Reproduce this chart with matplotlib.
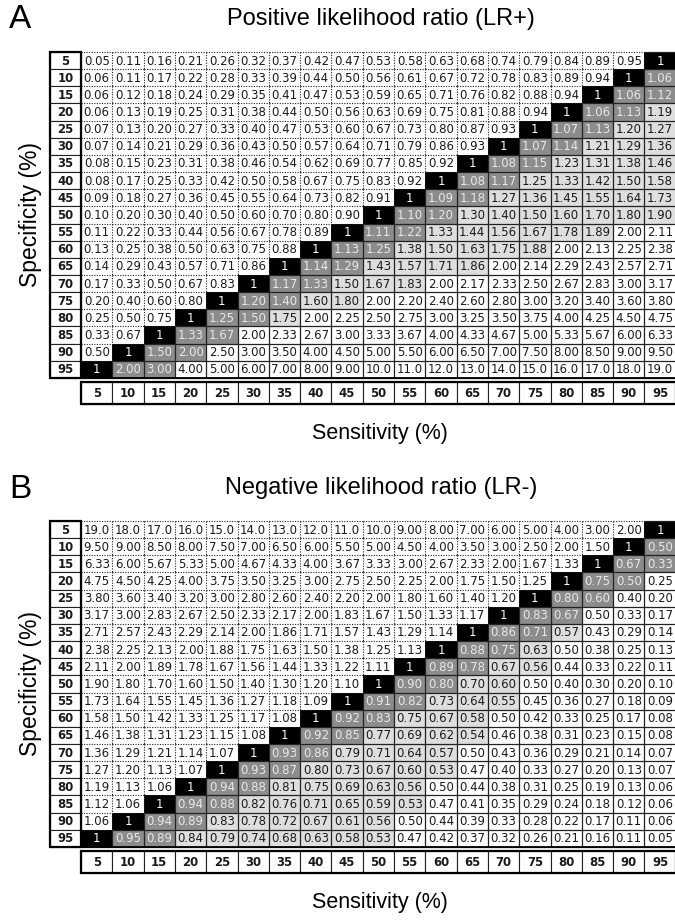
import matplotlib
matplotlib.use("Agg")
import matplotlib.pyplot as plt
from matplotlib import font_manager
from matplotlib.patches import Rectangle
from matplotlib.collections import LineCollection

# ---------------- data ----------------
specificity = [5, 10, 15, 20, 25, 30, 35, 40, 45, 50, 55, 60, 65, 70, 75, 80, 85, 90, 95]
sensitivity = [5, 10, 15, 20, 25, 30, 35, 40, 45, 50, 55, 60, 65, 70, 75, 80, 85, 90, 95]

lr_pos = [
    [0.05, 0.11, 0.16, 0.21, 0.26, 0.32, 0.37, 0.42, 0.47, 0.53, 0.58, 0.63, 0.68, 0.74, 0.79, 0.84, 0.89, 0.95, 1],
    [0.06, 0.11, 0.17, 0.22, 0.28, 0.33, 0.39, 0.44, 0.50, 0.56, 0.61, 0.67, 0.72, 0.78, 0.83, 0.89, 0.94, 1, 1.06],
    [0.06, 0.12, 0.18, 0.24, 0.29, 0.35, 0.41, 0.47, 0.53, 0.59, 0.65, 0.71, 0.76, 0.82, 0.88, 0.94, 1, 1.06, 1.12],
    [0.06, 0.13, 0.19, 0.25, 0.31, 0.38, 0.44, 0.50, 0.56, 0.63, 0.69, 0.75, 0.81, 0.88, 0.94, 1, 1.06, 1.13, 1.19],
    [0.07, 0.13, 0.20, 0.27, 0.33, 0.40, 0.47, 0.53, 0.60, 0.67, 0.73, 0.80, 0.87, 0.93, 1, 1.07, 1.13, 1.20, 1.27],
    [0.07, 0.14, 0.21, 0.29, 0.36, 0.43, 0.50, 0.57, 0.64, 0.71, 0.79, 0.86, 0.93, 1, 1.07, 1.14, 1.21, 1.29, 1.36],
    [0.08, 0.15, 0.23, 0.31, 0.38, 0.46, 0.54, 0.62, 0.69, 0.77, 0.85, 0.92, 1, 1.08, 1.15, 1.23, 1.31, 1.38, 1.46],
    [0.08, 0.17, 0.25, 0.33, 0.42, 0.50, 0.58, 0.67, 0.75, 0.83, 0.92, 1, 1.08, 1.17, 1.25, 1.33, 1.42, 1.50, 1.58],
    [0.09, 0.18, 0.27, 0.36, 0.45, 0.55, 0.64, 0.73, 0.82, 0.91, 1, 1.09, 1.18, 1.27, 1.36, 1.45, 1.55, 1.64, 1.73],
    [0.10, 0.20, 0.30, 0.40, 0.50, 0.60, 0.70, 0.80, 0.90, 1, 1.10, 1.20, 1.30, 1.40, 1.50, 1.60, 1.70, 1.80, 1.90],
    [0.11, 0.22, 0.33, 0.44, 0.56, 0.67, 0.78, 0.89, 1, 1.11, 1.22, 1.33, 1.44, 1.56, 1.67, 1.78, 1.89, 2.00, 2.11],
    [0.13, 0.25, 0.38, 0.50, 0.63, 0.75, 0.88, 1, 1.13, 1.25, 1.38, 1.50, 1.63, 1.75, 1.88, 2.00, 2.13, 2.25, 2.38],
    [0.14, 0.29, 0.43, 0.57, 0.71, 0.86, 1, 1.14, 1.29, 1.43, 1.57, 1.71, 1.86, 2.00, 2.14, 2.29, 2.43, 2.57, 2.71],
    [0.17, 0.33, 0.50, 0.67, 0.83, 1, 1.17, 1.33, 1.50, 1.67, 1.83, 2.00, 2.17, 2.33, 2.50, 2.67, 2.83, 3.00, 3.17],
    [0.20, 0.40, 0.60, 0.80, 1, 1.20, 1.40, 1.60, 1.80, 2.00, 2.20, 2.40, 2.60, 2.80, 3.00, 3.20, 3.40, 3.60, 3.80],
    [0.25, 0.50, 0.75, 1, 1.25, 1.50, 1.75, 2.00, 2.25, 2.50, 2.75, 3.00, 3.25, 3.50, 3.75, 4.00, 4.25, 4.50, 4.75],
    [0.33, 0.67, 1, 1.33, 1.67, 2.00, 2.33, 2.67, 3.00, 3.33, 3.67, 4.00, 4.33, 4.67, 5.00, 5.33, 5.67, 6.00, 6.33],
    [0.50, 1, 1.50, 2.00, 2.50, 3.00, 3.50, 4.00, 4.50, 5.00, 5.50, 6.00, 6.50, 7.00, 7.50, 8.00, 8.50, 9.00, 9.50],
    [1, 2.00, 3.00, 4.00, 5.00, 6.00, 7.00, 8.00, 9.00, 10.0, 11.0, 12.0, 13.0, 14.0, 15.0, 16.0, 17.0, 18.0, 19.0],
]

lr_neg = [
    [19.0, 18.0, 17.0, 16.0, 15.0, 14.0, 13.0, 12.0, 11.0, 10.0, 9.00, 8.00, 7.00, 6.00, 5.00, 4.00, 3.00, 2.00, 1],
    [9.50, 9.00, 8.50, 8.00, 7.50, 7.00, 6.50, 6.00, 5.50, 5.00, 4.50, 4.00, 3.50, 3.00, 2.50, 2.00, 1.50, 1, 0.50],
    [6.33, 6.00, 5.67, 5.33, 5.00, 4.67, 4.33, 4.00, 3.67, 3.33, 3.00, 2.67, 2.33, 2.00, 1.67, 1.33, 1, 0.67, 0.33],
    [4.75, 4.50, 4.25, 4.00, 3.75, 3.50, 3.25, 3.00, 2.75, 2.50, 2.25, 2.00, 1.75, 1.50, 1.25, 1, 0.75, 0.50, 0.25],
    [3.80, 3.60, 3.40, 3.20, 3.00, 2.80, 2.60, 2.40, 2.20, 2.00, 1.80, 1.60, 1.40, 1.20, 1, 0.80, 0.60, 0.40, 0.20],
    [3.17, 3.00, 2.83, 2.67, 2.50, 2.33, 2.17, 2.00, 1.83, 1.67, 1.50, 1.33, 1.17, 1, 0.83, 0.67, 0.50, 0.33, 0.17],
    [2.71, 2.57, 2.43, 2.29, 2.14, 2.00, 1.86, 1.71, 1.57, 1.43, 1.29, 1.14, 1, 0.86, 0.71, 0.57, 0.43, 0.29, 0.14],
    [2.38, 2.25, 2.13, 2.00, 1.88, 1.75, 1.63, 1.50, 1.38, 1.25, 1.13, 1, 0.88, 0.75, 0.63, 0.50, 0.38, 0.25, 0.13],
    [2.11, 2.00, 1.89, 1.78, 1.67, 1.56, 1.44, 1.33, 1.22, 1.11, 1, 0.89, 0.78, 0.67, 0.56, 0.44, 0.33, 0.22, 0.11],
    [1.90, 1.80, 1.70, 1.60, 1.50, 1.40, 1.30, 1.20, 1.10, 1, 0.90, 0.80, 0.70, 0.60, 0.50, 0.40, 0.30, 0.20, 0.10],
    [1.73, 1.64, 1.55, 1.45, 1.36, 1.27, 1.18, 1.09, 1, 0.91, 0.82, 0.73, 0.64, 0.55, 0.45, 0.36, 0.27, 0.18, 0.09],
    [1.58, 1.50, 1.42, 1.33, 1.25, 1.17, 1.08, 1, 0.92, 0.83, 0.75, 0.67, 0.58, 0.50, 0.42, 0.33, 0.25, 0.17, 0.08],
    [1.46, 1.38, 1.31, 1.23, 1.15, 1.08, 1, 0.92, 0.85, 0.77, 0.69, 0.62, 0.54, 0.46, 0.38, 0.31, 0.23, 0.15, 0.08],
    [1.36, 1.29, 1.21, 1.14, 1.07, 1, 0.93, 0.86, 0.79, 0.71, 0.64, 0.57, 0.50, 0.43, 0.36, 0.29, 0.21, 0.14, 0.07],
    [1.27, 1.20, 1.13, 1.07, 1, 0.93, 0.87, 0.80, 0.73, 0.67, 0.60, 0.53, 0.47, 0.40, 0.33, 0.27, 0.20, 0.13, 0.07],
    [1.19, 1.13, 1.06, 1, 0.94, 0.88, 0.81, 0.75, 0.69, 0.63, 0.56, 0.50, 0.44, 0.38, 0.31, 0.25, 0.19, 0.13, 0.06],
    [1.12, 1.06, 1, 0.94, 0.88, 0.82, 0.76, 0.71, 0.65, 0.59, 0.53, 0.47, 0.41, 0.35, 0.29, 0.24, 0.18, 0.12, 0.06],
    [1.06, 1, 0.94, 0.89, 0.83, 0.78, 0.72, 0.67, 0.61, 0.56, 0.50, 0.44, 0.39, 0.33, 0.28, 0.22, 0.17, 0.11, 0.06],
    [1, 0.95, 0.89, 0.84, 0.79, 0.74, 0.68, 0.63, 0.58, 0.53, 0.47, 0.42, 0.37, 0.32, 0.26, 0.21, 0.16, 0.11, 0.05],
]

panel_letters = ["A", "B"]
panel_titles = ["Positive likelihood ratio (LR+)", "Negative likelihood ratio (LR-)"]
x_label = "Sensitivity (%)"
y_label = "Specificity (%)"

# ---------------- fonts ----------------
available = {f.name for f in font_manager.fontManager.ttflist}
if "Liberation Sans Narrow" in available:
    CELL_FONT = dict(family=["Liberation Sans Narrow", "DejaVu Sans"])
else:
    CELL_FONT = dict(family=["DejaVu Sans"], stretch="condensed")
TITLE_FONT = ["Liberation Sans", "DejaVu Sans"]

# ---------------- layout (pixels) ----------------
W, H = 675, 923
fig = plt.figure(figsize=(W / 100, H / 100), dpi=100)
ax = fig.add_axes([0, 0, 1, 1])
ax.set_xlim(0, W)
ax.set_ylim(H, 0)
ax.axis("off")

LEFT = 50.0      # left edge of row-header column
HW = 31.0        # row-header column width
CW = 31.3        # data column width
RH = 17.15       # row height
HDR_GAP = 4.0
HDR_H = 22.0
panel_tops = [52.0, 521.0]
CELL_FS = 9.4

BLACK = "#000000"
DARK = "#8c8c8c"
LIGHT = "#dedede"
TEXT = "#1a1a1a"


def fmt(v):
    if v == 1:
        return "1"
    if v >= 10:
        return f"{v:.1f}"
    return f"{v:.2f}"


def draw_panel(top, values, kind, letter, title):
    n = len(specificity)
    x0 = LEFT + HW          # left of data region
    cls = [[None] * n for _ in range(n)]
    for i in range(n):
        for j in range(n):
            v = values[i][j]
            s = i + j
            if s < n - 1:
                cls[i][j] = "low"
            elif s == n - 1:
                cls[i][j] = "diag"
            elif s <= n + 1:
                cls[i][j] = "dark"
            else:
                if (kind == "pos" and v < 2) or (kind == "neg" and v > 0.5):
                    cls[i][j] = "light"
                else:
                    cls[i][j] = "white"
    for i in range(n):
        for j in range(n):
            c = cls[i][j]
            xl = x0 + j * CW
            yt = top + i * RH
            face = {"low": "white", "diag": BLACK, "dark": DARK,
                    "light": LIGHT, "white": "white"}[c]
            ax.add_patch(Rectangle((xl, yt), CW, RH, facecolor=face,
                                   edgecolor="none", zorder=1))
            v = values[i][j]
            if c == "diag":
                ax.text(xl + CW / 2, yt + RH / 2 + 0.5, fmt(v), color="white",
                        ha="center", va="center", fontsize=CELL_FS, zorder=5, **CELL_FONT)
            else:
                col = "#e8e8e8" if c == "dark" else TEXT
                ax.text(xl + CW - 2.6, yt + RH / 2 + 0.5, fmt(v), color=col,
                        ha="right", va="center", fontsize=CELL_FS, zorder=5, **CELL_FONT)
    dotted, solid = [], []
    for i in range(n + 1):
        for j in range(n):
            above = cls[i - 1][j] if i > 0 else None
            below = cls[i][j] if i < n else None
            seg = [(x0 + j * CW, top + i * RH), (x0 + (j + 1) * CW, top + i * RH)]
            if "low" in (above, below):
                dotted.append(seg)
            else:
                solid.append(seg)
    for i in range(n):
        for j in range(1, n + 1):
            left = cls[i][j - 1]
            right = cls[i][j] if j < n else None
            seg = [(x0 + j * CW, top + i * RH), (x0 + j * CW, top + (i + 1) * RH)]
            if "low" in (left, right):
                dotted.append(seg)
            else:
                solid.append(seg)
    ax.add_collection(LineCollection(solid, colors="#222222", linewidths=0.9, zorder=3))
    ax.add_collection(LineCollection(dotted, colors="#222222", linewidths=0.8,
                                     linestyles=[(0, (1.0, 1.3))], zorder=4))
    bottom = top + n * RH
    ax.plot([x0, x0 + n * CW], [bottom, bottom], color="black", lw=1.3, zorder=4)

    for i, sp in enumerate(specificity):
        yt = top + i * RH
        ax.add_patch(Rectangle((LEFT, yt), HW, RH, facecolor="white",
                               edgecolor="#222222", lw=0.8, zorder=2))
        ax.text(LEFT + HW / 2, yt + RH / 2 + 0.5, str(sp), ha="center", va="center",
                fontsize=CELL_FS, fontweight="bold", color=TEXT, zorder=5, **CELL_FONT)
    ax.add_patch(Rectangle((LEFT, top), HW, n * RH, facecolor="none",
                           edgecolor="black", lw=1.6, zorder=6))

    hy = bottom + HDR_GAP
    for j, se in enumerate(sensitivity):
        xl = x0 + j * CW
        ax.add_patch(Rectangle((xl, hy), CW, HDR_H, facecolor="white",
                               edgecolor="#222222", lw=0.8, zorder=2))
        ax.text(xl + CW / 2, hy + HDR_H / 2 + 0.5, str(se), ha="center", va="center",
                fontsize=CELL_FS, fontweight="bold", color=TEXT, zorder=5, **CELL_FONT)
    ax.add_patch(Rectangle((x0, hy), n * CW, HDR_H, facecolor="none",
                           edgecolor="black", lw=1.6, zorder=6))

    ax.text(380, hy + HDR_H + 30, x_label, ha="center", va="center",
            fontsize=15.5, family=TITLE_FONT)
    ax.text(30, top + n * RH / 2, y_label, ha="center", va="center", rotation=90,
            fontsize=16.5, family=TITLE_FONT)
    ax.text(381, top - 33, title, ha="center", va="center", fontsize=17,
            family=TITLE_FONT)
    ax.text(9, top - 32, letter, ha="left", va="center", fontsize=24,
            family=TITLE_FONT)


draw_panel(panel_tops[0], lr_pos, "pos", panel_letters[0], panel_titles[0])
draw_panel(panel_tops[1], lr_neg, "neg", panel_letters[1], panel_titles[1])

fig.savefig("out.png", dpi=100)
